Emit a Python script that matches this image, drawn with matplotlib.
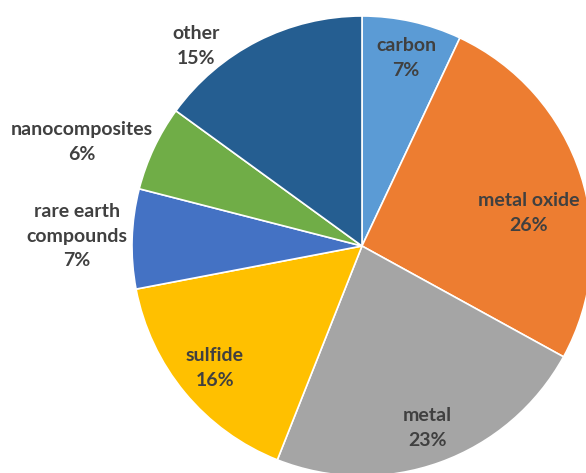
import numpy as np
import matplotlib
matplotlib.use('Agg')
import matplotlib.pyplot as plt

# share of each material class
labels = ['carbon', 'metal oxide', 'metal', 'sulfide', 'rare earth\ncompounds', 'nanocomposites', 'other']
shares = [7, 26, 23, 16, 7, 6, 15]
colors = ['#5B9BD5', '#ED7D31', '#A5A5A5', '#FFC000', '#4472C4', '#70AD47', '#255E91']

# label placement: radius (pie units) and angle nudge (deg, clockwise)
label_r = [0.84, 0.74, 0.84, 0.83, 1.24, 1.30, 1.13]
label_shift = [0.6, 6.8, 0.0, 0.0, 0.2, -4.8, -12.6]

W, H = 586, 473
cx, cy, R = 362, 246, 230   # pie centre and radius in pixels

fig = plt.figure(figsize=(W / 100, H / 100), dpi=100)
ax = fig.add_axes([0, 0, 1, 1])

wedges, _ = ax.pie(shares, colors=colors, startangle=90, counterclock=False,
                   radius=1.0, wedgeprops=dict(edgecolor='white', linewidth=1.2))

# pie() resets limits/aspect, so fix them afterwards
ax.set_aspect('auto')
ax.set_xlim(-cx / R, (W - cx) / R)
ax.set_ylim(-(H - cy) / R, cy / R)
ax.axis('off')

total = float(sum(shares))
cum = 0.0
for lab, val, r, sh in zip(labels, shares, label_r, label_shift):
    mid = (cum + val / 2) / total * 360 + sh
    cum += val
    a = np.deg2rad(90 - mid)
    ax.text(r * np.cos(a), r * np.sin(a), f'{lab}\n{val}%', ha='center', va='center',
            fontsize=14, fontweight='bold', family=['Lato', 'DejaVu Sans'],
            color='#404040', linespacing=1.55)

fig.savefig('out.png', dpi=100)
